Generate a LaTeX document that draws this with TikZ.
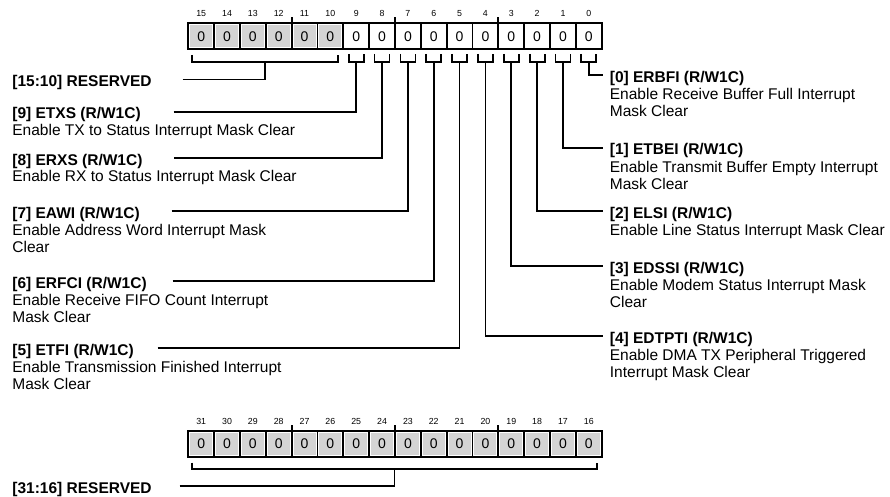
\documentclass[tikz,border=0pt]{standalone}
\usepackage{fontspec}
\setmainfont{Liberation Sans}
\definecolor{cellgray}{RGB}{212,212,212}
\begin{document}
\begin{tikzpicture}[x=1pt,y=-1pt,line width=1.8pt,
  cellbox/.style={draw,minimum width=25.84pt,minimum height=26pt,inner sep=0pt,outer sep=0pt,font=\fontsize{14}{16}\selectfont},
  rescell/.style={cellbox,path picture={\fill[cellgray] ([shift={(1.9pt,-1.9pt)}]path picture bounding box.north west) rectangle ([shift={(-1.9pt,1.9pt)}]path picture bounding box.south east);}},
  bitnum/.style={font=\fontsize{8.8}{10}\selectfont,inner sep=0pt},
  ttl/.style={anchor=base west,inner sep=0pt,font=\fontsize{15.5}{17}\selectfont\bfseries},
  dsc/.style={anchor=base west,inner sep=0pt,align=left,font=\fontsize{15.5}{17}\selectfont},
  wire/.style={line width=1.8pt},
  brk/.style={line width=1.8pt},
  tick/.style={line width=1.8pt}]
\useasboundingbox (0,0) rectangle (890,497);
% ---------- top register ----------
\foreach \i in {0,...,9}{
  \pgfmathsetmacro\cx{601.7-25.84*(\i+0.5)}
  \node[cellbox] (c\i) at (\cx,36.4) {0};
  \node[bitnum] (n\i) at (\cx,13.5) {\i};
  \draw[brk] (\cx-7.5,54) -- (\cx-7.5,62) -- (\cx+7.5,62) -- (\cx+7.5,54);
  \coordinate (b\i) at (\cx,62);
}
\foreach \i in {10,...,15}{
  \pgfmathsetmacro\cx{601.7-25.84*(\i+0.5)}
  \node[rescell] (c\i) at (\cx,36.4) {0};
  \node[bitnum] (n\i) at (\cx,13.5) {\i};
}
\foreach \i in {12,8,4}{
  \draw[tick] (c\i.north east) -- ++(0,-6.5);
}
\draw[brk] (192.3,55) -- (192.3,61.7) -- (338.3,61.7) -- (338.3,55);
\coordinate (br) at (265.3,61.7);
% ---------- bottom register ----------
\foreach \i in {16,...,31}{
  \pgfmathsetmacro\cx{601.7-25.84*(\i-16+0.5)}
  \node[rescell] (c\i) at (\cx,444) {0};
  \node[bitnum] (n\i) at (\cx,421) {\i};
}
\foreach \i in {28,24,20}{
  \draw[tick] (c\i.north east) -- ++(0,-6.5);
}
\draw[brk] (192.3,462.7) -- (192.3,469.3) -- (596.7,469.3) -- (596.7,462.7);
\coordinate (brb) at (394.5,469.3);
% ---------- left labels ----------
\node[ttl] (tres) at (11.5,86.7) {[15:10] RESERVED};
\draw[wire] ([xshift=30pt,yshift=7.2pt]tres.base east) -| (br);

\node[ttl] (t9) at (11.5,119) {[9] ETXS (R/W1C)};
\node[dsc] (d9) at (11.5,136) {Enable TX to Status Interrupt Mask Clear};
\draw[wire] ([xshift=32pt,yshift=7.2pt]t9.base east) -| (b9);

\node[ttl] (t8) at (11.5,165) {[8] ERXS (R/W1C)};
\node[dsc] (d8) at (11.5,182) {Enable RX to Status Interrupt Mask Clear};
\draw[wire] ([xshift=31pt,yshift=7.2pt]t8.base east) -| (b8);

\node[ttl] (t7) at (11.5,218) {[7] EAWI (R/W1C)};
\node[dsc] (d7) at (11.5,252) {Enable Address Word Interrupt Mask\\Clear};
\draw[wire] ([xshift=31pt,yshift=7.2pt]t7.base east) -| (b7);

\node[ttl] (t6) at (11.5,288) {[6] ERFCI (R/W1C)};
\node[dsc] (d6) at (11.5,322) {Enable Receive FIFO Count Interrupt\\Mask Clear};
\draw[wire] ([xshift=25pt,yshift=7.2pt]t6.base east) -| (b6);

\node[ttl] (t5) at (11.5,355.3) {[5] ETFI (R/W1C)};
\node[dsc] (d5) at (11.5,389.3) {Enable Transmission Finished Interrupt\\Mask Clear};
\draw[wire] ([xshift=23pt,yshift=7.2pt]t5.base east) -| (b5);

\node[ttl] (tresb) at (11.5,493.2) {[31:16] RESERVED};
\draw[wire] ([xshift=27pt,yshift=7.2pt]tresb.base east) -| (brb);
% ---------- right labels ----------
\node[ttl] (t0) at (609,82.2) {[0] ERBFI (R/W1C)};
\node[dsc] (d0) at (609,116.2) {Enable Receive Buffer Full Interrupt\\Mask Clear};
\draw[wire] (b0) |- ([xshift=-6pt,yshift=7.2pt]t0.base west);

\node[ttl] (t1) at (609,155) {[1] ETBEI (R/W1C)};
\node[dsc] (d1) at (609,189) {Enable Transmit Buffer Empty Interrupt\\Mask Clear};
\draw[wire] (b1) |- ([xshift=-6pt,yshift=7.2pt]t1.base west);

\node[ttl] (t2) at (609,218.2) {[2] ELSI (R/W1C)};
\node[dsc] (d2) at (609,235.2) {Enable Line Status Interrupt Mask Clear};
\draw[wire] (b2) |- ([xshift=-6pt,yshift=7.2pt]t2.base west);

\node[ttl] (t3) at (609,273.2) {[3] EDSSI (R/W1C)};
\node[dsc] (d3) at (609,307.2) {Enable Modem Status Interrupt Mask\\Clear};
\draw[wire] (b3) |- ([xshift=-6pt,yshift=7.2pt]t3.base west);

\node[ttl] (t4) at (609,343.2) {[4] EDTPTI (R/W1C)};
\node[dsc] (d4) at (609,377.2) {Enable DMA TX Peripheral Triggered\\Interrupt Mask Clear};
\draw[wire] (b4) |- ([xshift=-6pt,yshift=7.2pt]t4.base west);
\end{tikzpicture}
\end{document}
